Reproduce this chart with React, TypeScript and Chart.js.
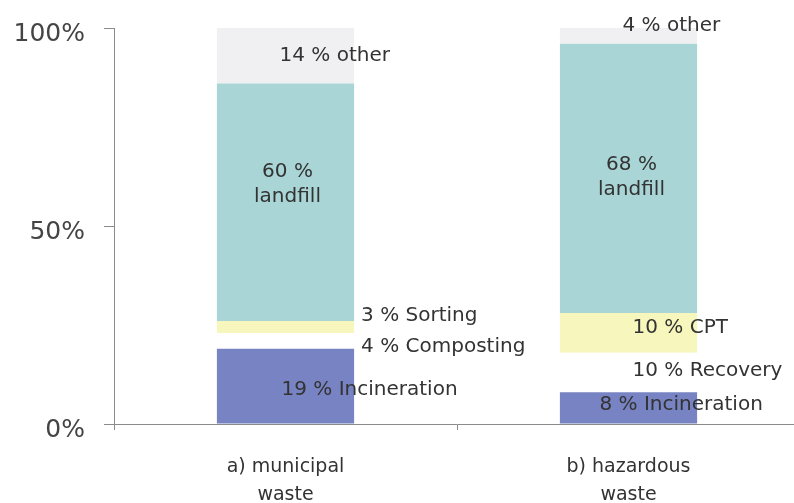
import { useEffect, useRef } from 'react';
import { Chart, registerables } from 'chart.js';

Chart.register(...registerables);

const categories = [['a) municipal', 'waste'], ['b) hazardous', 'waste']];
const incineration = [19, 8];
const composting = [4, 0];
const recovery = [0, 10];
const sorting = [3, 0];
const cpt = [0, 10];
const landfill = [60, 68];
const other = [14, 4];
const seriesNames = ['Incineration', 'Composting', 'Recovery', 'Sorting', 'CPT', 'landfill', 'other'];

const FONT = '"DejaVu Sans", "Liberation Sans", Arial, sans-serif';

type Spec = { ds: number; i: number; anchor: 'center' | 'right'; align: CanvasTextAlign; dx: number; dy: number; split?: boolean };

const labelSpecs: Spec[] = [
  { ds: 6, i: 0, anchor: 'center', align: 'left', dx: -6, dy: 0 },
  { ds: 5, i: 0, anchor: 'center', align: 'center', dx: 2, dy: -18, split: true },
  { ds: 3, i: 0, anchor: 'right', align: 'left', dx: 7, dy: -11 },
  { ds: 1, i: 0, anchor: 'right', align: 'left', dx: 7, dy: 6 },
  { ds: 0, i: 0, anchor: 'center', align: 'left', dx: -4, dy: 4 },
  { ds: 6, i: 1, anchor: 'center', align: 'left', dx: -6, dy: -10 },
  { ds: 5, i: 1, anchor: 'center', align: 'center', dx: 3, dy: -1, split: true },
  { ds: 4, i: 1, anchor: 'center', align: 'left', dx: 4, dy: -5 },
  { ds: 2, i: 1, anchor: 'center', align: 'left', dx: 4, dy: -1.5 },
  { ds: 0, i: 1, anchor: 'center', align: 'left', dx: -29, dy: -3 },
];

const labelPlugin = {
  id: 'segLabels',
  afterDatasetsDraw(chart: any) {
    const ctx = chart.ctx as CanvasRenderingContext2D;
    ctx.save();
    ctx.font = `20px ${FONT}`;
    ctx.fillStyle = '#333333';
    ctx.textBaseline = 'middle';
    for (const s of labelSpecs) {
      const el: any = chart.getDatasetMeta(s.ds).data[s.i];
      const ds = chart.data.datasets[s.ds];
      const v = ds.data[s.i];
      if (!el || !v) continue;
      const mid = (el.y + el.base) / 2 + s.dy;
      const x = (s.anchor === 'center' ? el.x : el.x + el.width / 2) + s.dx;
      ctx.textAlign = s.align;
      const lines = s.split ? [`${v} %`, ds.label] : [`${v} % ${ds.label}`];
      const lh = 25;
      lines.forEach((t, k) => {
        ctx.fillText(t, x, mid + (k - (lines.length - 1) / 2) * lh);
      });
    }
    ctx.restore();
  },
};

export default function App() {
  const ref = useRef<HTMLCanvasElement>(null);
  useEffect(() => {
    const values = [incineration, composting, recovery, sorting, cpt, landfill, other];
    const colors = ['#7783c2', '#ffffff', '#ffffff', '#f6f6bd', '#f6f6bd', '#a9d5d6', '#f0f0f2'];
    const chart = new Chart(ref.current!, {
      type: 'bar',
      data: {
        labels: categories,
        datasets: values.map((d, k) => ({
          label: seriesNames[k],
          data: d,
          backgroundColor: colors[k],
          borderWidth: 0,
          barPercentage: 0.4,
          categoryPercentage: 1,
        })),
      },
      options: {
        animation: false,
        responsive: false,
        devicePixelRatio: 1,
        layout: { padding: { top: 28, right: 0, left: 0, bottom: 0 } },
        plugins: { legend: { display: false }, tooltip: { enabled: false } },
        scales: {
          x: {
            stacked: true,
            border: { display: true, color: '#8a8a8a', width: 1 },
            grid: { display: true, drawOnChartArea: false, drawTicks: true, tickLength: 6, offset: true, color: '#8a8a8a' },
            ticks: { color: '#333333', padding: 23, font: { family: FONT, size: 19, lineHeight: 28 / 19 } },
            afterFit: (scale: any) => {
              scale.height = 83;
              scale.paddingLeft = 0;
              scale.paddingRight = 0;
            },
          },
          y: {
            stacked: true,
            min: 0,
            max: 100,
            border: { display: true, color: '#8a8a8a', width: 1 },
            grid: { display: true, drawOnChartArea: false, drawTicks: true, tickLength: 10, color: '#8a8a8a' },
            ticks: {
              stepSize: 50,
              color: '#444444',
              padding: 19,
              labelOffset: 6,
              font: { family: FONT, size: 25 },
              callback: (v: any) => `${v}%`,
            },
            afterFit: (scale: any) => {
              scale.width = 114;
              scale.paddingTop = 0;
              scale.paddingBottom = 0;
            },
          },
        },
      },
      plugins: [labelPlugin],
    });
    return () => chart.destroy();
  }, []);
  return (
    <div style={{ position: 'fixed', left: 0, top: 0, width: 800, height: 507, background: '#ffffff' }}>
      <canvas ref={ref} width={800} height={507} style={{ width: 800, height: 507, display: 'block' }} />
    </div>
  );
}
